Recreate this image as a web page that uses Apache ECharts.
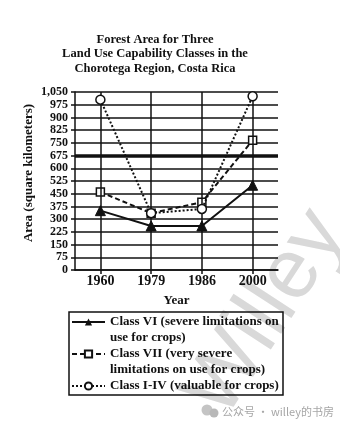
<!DOCTYPE html>
<html>
<head>
<meta charset="utf-8">
<script src="https://cdn.jsdelivr.net/npm/echarts@6/dist/echarts.min.js"></script>
<style>
html,body{margin:0;padding:0;background:#fff;}
#c{width:340px;height:426px;}
</style>
</head>
<body>
<div id="c"></div>
<script>
var years = ['1960', '1979', '1986', '2000'];
var classVI = [350, 260, 260, 500];
var classVII = [460, 335, 400, 765];
var classI_IV = [1005, 335, 360, 1025];
var seriesNames = ['Class VI (severe limitations on\nuse for crops)', 'Class VII (very severe\nlimitations on use for crops)', 'Class I-IV (valuable for crops)'];
var highlightLine = 675;
var titleText = 'Forest Area for Three\nLand Use Capability Classes in the\nChorotega Region, Costa Rica';
var captionText = '公众号 · willey的书房';
var watermarkText = 'Willey';

var F = '"Liberation Serif", "DejaVu Serif", serif';
function addComma(v){ return String(v).replace(/\B(?=(\d{3})+(?!\d))/g, ','); }

var chart = echarts.init(document.getElementById('c'));
chart.setOption({
  backgroundColor: '#fff',
  animation: false,
  title: {
    text: titleText,
    left: 150, textAlign: 'center', top: 27,
    textStyle: {fontFamily: F, fontWeight: 'bold', fontSize: 12.5, lineHeight: 14.7, color: '#111'}
  },
  grid: {left: 75, right: 62, top: 92, bottom: 156},
  xAxis: {
    type: 'category', data: years, boundaryGap: true,
    name: 'Year', nameLocation: 'middle', nameGap: 24,
    nameTextStyle: {fontFamily: F, fontWeight: 'bold', fontSize: 13, color: '#111'},
    axisLine: {lineStyle: {color: '#111', width: 1.5}},
    axisTick: {show: true, alignWithLabel: true, length: 4, lineStyle: {color: '#111', width: 1.5}},
    axisLabel: {fontFamily: F, fontWeight: 'bold', fontSize: 14, color: '#111', margin: 4},
    splitLine: {show: false}
  },
  yAxis: {
    type: 'value', min: 0, max: 1050, interval: 75,
    name: 'Area (square kilometers)', nameLocation: 'middle', nameGap: 40, nameMoveOverlap: false,
    nameTextStyle: {fontFamily: F, fontWeight: 'bold', fontSize: 13, color: '#111', padding: [0, 0, 0, 16]},
    axisLine: {show: true, lineStyle: {color: '#111', width: 1.5}},
    axisTick: {show: true, length: 4, lineStyle: {color: '#111', width: 1.5}},
    axisLabel: {fontFamily: F, fontWeight: 'bold', fontSize: 12, color: '#111', margin: 7,
      formatter: function(v){ return addComma(v); }},
    splitLine: {lineStyle: {color: '#111', width: 1.5}}
  },
  legend: {
    data: seriesNames, orient: 'vertical', left: 71, top: 298,
    padding: 0, itemGap: -16, itemWidth: 33, itemHeight: 9,
    formatter: function(n){ return n.indexOf('\n') >= 0 ? '\n' + n : '\n' + n + '\n '; },
    textStyle: {fontFamily: F, fontWeight: 'bold', fontSize: 13, lineHeight: 16, color: '#111'}
  },
  graphic: [
    {type: 'text', x: 240, y: 432, rotation: 57 * Math.PI / 180, silent: true, z: -10,
      style: {text: watermarkText, fontFamily: '"Liberation Sans", sans-serif', fontSize: 85, fill: '#d9d9d9', verticalAlign: 'bottom'}},
    {type: 'rect', shape: {x: 69, y: 312, width: 214, height: 83}, style: {fill: 'none', stroke: '#111', lineWidth: 1.5}, z: 0},
    {type: 'circle', shape: {cx: 207, cy: 410, r: 5.5}, style: {fill: '#c4c4c4'}, z: 0},
    {type: 'circle', shape: {cx: 214, cy: 413, r: 4.5}, style: {fill: '#b8b8b8'}, z: 0},
    {type: 'text', x: 222, y: 412, style: {text: captionText, fontFamily: '"Noto Sans CJK SC", sans-serif', fontSize: 11, fill: '#a6a6a6', verticalAlign: 'middle'}}
  ],
  series: [
    {
      name: 'grid-marks', type: 'line', data: [], z: 1, silent: true,
      markLine: {
        silent: true, symbol: 'none', label: {show: false},
        lineStyle: {color: '#111', width: 1.5, type: 'solid'},
        data: years.map(function(y){ return {xAxis: y}; }).concat([{yAxis: highlightLine, lineStyle: {width: 3.5}}])
      }
    },
    {
      name: seriesNames[0], type: 'line', data: classVI, z: 3,
      symbol: 'triangle', symbolSize: 10,
      lineStyle: {color: '#111', width: 2},
      itemStyle: {color: '#111', borderColor: '#111'}
    },
    {
      name: seriesNames[1], type: 'line', data: classVII, z: 4,
      symbol: 'rect', symbolSize: 8,
      lineStyle: {color: '#111', width: 2, type: [5, 3]},
      itemStyle: {color: '#fff', borderColor: '#111', borderWidth: 1.5}
    },
    {
      name: seriesNames[2], type: 'line', data: classI_IV, z: 5,
      symbol: 'circle', symbolSize: 9,
      lineStyle: {color: '#111', width: 2, type: [2, 2]},
      itemStyle: {color: '#fff', borderColor: '#111', borderWidth: 1.5}
    }
  ]
});
</script>
</body>
</html>
